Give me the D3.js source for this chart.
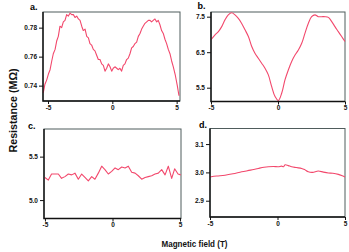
<!DOCTYPE html>
<html>
<head>
<meta charset="utf-8">
<script src="https://cdn.jsdelivr.net/npm/d3@7"></script>
<style>
  body { margin: 0; background: #fff; }
  svg { display: block; font-family: "Liberation Sans", Arial, sans-serif; }
</style>
</head>
<body>
<svg id="chart" width="349" height="252"></svg>
<script>
// values: [field (T), resistance]
const seriesA = [
  [-5.37, 0.735], [-5.24, 0.741], [-5.10, 0.744], [-4.97, 0.748], [-4.84, 0.751], [-4.71, 0.757],
  [-4.59, 0.762], [-4.45, 0.765], [-4.32, 0.771], [-4.20, 0.774], [-4.07, 0.781], [-3.94, 0.780],
  [-3.81, 0.784], [-3.68, 0.785], [-3.55, 0.789], [-3.42, 0.788], [-3.29, 0.790], [-3.16, 0.789],
  [-3.03, 0.789], [-2.90, 0.787], [-2.77, 0.788], [-2.64, 0.786], [-2.51, 0.785], [-2.38, 0.781],
  [-2.26, 0.778], [-2.12, 0.779], [-1.99, 0.774], [-1.86, 0.773], [-1.74, 0.769], [-1.61, 0.768],
  [-1.48, 0.765], [-1.35, 0.764], [-1.22, 0.761], [-1.09, 0.758], [-0.96, 0.758], [-0.83, 0.755],
  [-0.70, 0.754], [-0.57, 0.750], [-0.44, 0.752], [-0.31, 0.755], [-0.18, 0.753], [-0.05, 0.750],
  [0.07, 0.752], [0.20, 0.753], [0.34, 0.752], [0.46, 0.751], [0.59, 0.752], [0.72, 0.750],
  [0.85, 0.754], [0.98, 0.755], [1.11, 0.758], [1.24, 0.759], [1.37, 0.762], [1.50, 0.766],
  [1.63, 0.767], [1.76, 0.769], [1.89, 0.770], [2.02, 0.774], [2.15, 0.776], [2.28, 0.779],
  [2.40, 0.781], [2.54, 0.783], [2.67, 0.784], [2.80, 0.785], [2.93, 0.785], [3.05, 0.784],
  [3.18, 0.785], [3.31, 0.786], [3.45, 0.784], [3.57, 0.785], [3.70, 0.782], [3.83, 0.778],
  [3.96, 0.776], [4.09, 0.772], [4.22, 0.769], [4.35, 0.765], [4.48, 0.762], [4.61, 0.757],
  [4.74, 0.753], [4.90, 0.747], [5.05, 0.740], [5.18, 0.733]
]
const seriesB = [
  [-5.0, 6.85], [-4.70, 6.99], [-4.45, 7.08], [-4.20, 7.22], [-3.96, 7.41], [-3.71, 7.55],
  [-3.46, 7.61], [-3.21, 7.55], [-2.96, 7.45], [-2.71, 7.31], [-2.46, 7.13], [-2.21, 6.94],
  [-1.96, 6.66], [-1.72, 6.47], [-1.47, 6.33], [-1.22, 6.19], [-0.97, 6.05], [-0.72, 5.86],
  [-0.47, 5.53], [-0.22, 5.25], [0.03, 5.14], [0.28, 5.35], [0.52, 5.72], [0.77, 6.00],
  [1.02, 6.24], [1.27, 6.42], [1.52, 6.56], [1.77, 6.75], [2.01, 7.03], [2.26, 7.31],
  [2.51, 7.50], [2.76, 7.55], [3.01, 7.50], [3.26, 7.50], [3.51, 7.50], [3.76, 7.48],
  [4.01, 7.36], [4.25, 7.22], [4.50, 7.08], [4.75, 6.94], [5.0, 6.80]
]
const seriesC = [
  [-5.00, 5.26], [-4.75, 5.23], [-4.51, 5.30], [-4.26, 5.30], [-4.01, 5.30], [-3.77, 5.25],
  [-3.52, 5.27], [-3.27, 5.30], [-3.02, 5.29], [-2.78, 5.31], [-2.53, 5.24], [-2.28, 5.30],
  [-2.04, 5.26], [-1.79, 5.22], [-1.54, 5.27], [-1.30, 5.24], [-1.05, 5.31], [-0.80, 5.39],
  [-0.56, 5.35], [-0.31, 5.30], [-0.06, 5.33], [0.19, 5.37], [0.43, 5.35], [0.68, 5.38],
  [0.93, 5.37], [1.17, 5.39], [1.42, 5.32], [1.67, 5.31], [1.91, 5.28], [2.16, 5.24],
  [2.41, 5.26], [2.65, 5.27], [2.90, 5.28], [3.15, 5.30], [3.39, 5.31], [3.64, 5.35],
  [3.89, 5.29], [4.13, 5.39], [4.38, 5.25], [4.60, 5.36], [4.85, 5.30], [5.05, 5.29]
]
const seriesD = [
  [-5.0, 2.984], [-4.5, 2.987], [-3.89, 2.990], [-3.3, 2.995], [-2.65, 3.002], [-2.0, 3.008],
  [-1.42, 3.014], [-1.0, 3.018], [-0.68, 3.020], [-0.3, 3.021], [0.06, 3.020], [0.3, 3.022],
  [0.45, 3.020], [0.56, 3.027], [0.8, 3.024], [1.05, 3.020], [1.4, 3.017], [1.79, 3.014],
  [2.0, 3.010], [2.28, 3.002], [2.6, 3.000], [3.02, 3.005], [3.4, 3.001], [3.77, 2.998],
  [4.1, 2.997], [4.51, 2.993], [4.8, 2.988], [5.0, 2.984]
]

const xTicks = [-5, 0, 5]
const xTickLabels = ['-5', '0', '5']
const yTicksA = [0.74, 0.76, 0.78]
const yTicksB = [5.5, 6.5, 7.5]
const yTicksC = [5.0, 5.5]
const yTicksD = [2.9, 3.0, 3.1]
const panelNames = ['a.', 'b.', 'c.', 'd.']

const lineColor = '#f2486c'
const svg = d3.select('#chart')

// box = frame in px, xDom/yDom = values at the frame edges
const panels = [
  { name: panelNames[0], data: seriesA, yTicks: yTicksA, box: [43, 12, 180, 101], xDom: [-5.39, 5.26], yDom: [0.7294, 0.7908], curve: d3.curveLinear, label: [30, 10] },
  { name: panelNames[1], data: seriesB, yTicks: yTicksB, box: [211, 12, 345, 101.5], xDom: [-5, 5], yDom: [5.111, 7.632], curve: d3.curveCatmullRom, label: [197.5, 8.5] },
  { name: panelNames[2], data: seriesC, yTicks: yTicksC, box: [44, 129, 181, 218.5], xDom: [-5.07, 5.07], yDom: [4.788, 5.818], curve: d3.curveLinear, label: [28, 128.5] },
  { name: panelNames[3], data: seriesD, yTicks: yTicksD, box: [210, 128.5, 345, 217], xDom: [-5, 5], yDom: [2.8425, 3.155], curve: d3.curveCatmullRom, label: [199, 128] }
]

for (const p of panels) {
  const [x0, y0, x1, y1] = p.box
  const x = d3.scaleLinear().domain(p.xDom).range([x0, x1])
  const y = d3.scaleLinear().domain(p.yDom).range([y1, y0])
  const g = svg.append('g')

  // frame
  g.append('rect')
    .attr('x', x0).attr('y', y0)
    .attr('width', x1 - x0).attr('height', y1 - y0)
    .attr('fill', 'none')
    .attr('stroke', '#4f5c5c')
    .attr('stroke-width', 1)

  const line = d3.line()
    .x(d => x(d[0]))
    .y(d => y(d[1]))
    .curve(p.curve)

  g.append('path')
    .datum(p.data)
    .attr('fill', 'none')
    .attr('stroke', lineColor)
    .attr('stroke-width', 1.1)
    .attr('stroke-linejoin', 'round')
    .attr('d', line)

  // axes
  const xAxis = d3.axisBottom(x)
    .tickValues(xTicks)
    .tickFormat((d, i) => xTickLabels[i])
    .tickSize(3).tickPadding(1)
  const yAxis = d3.axisLeft(y)
    .tickValues(p.yTicks)
    .tickFormat(d3.format(p.yTicks[0] < 1 ? '.2f' : '.1f'))
    .tickSize(4).tickPadding(2)

  const gx = g.append('g').attr('transform', `translate(0, ${y1})`).call(xAxis)
  const gy = g.append('g').attr('transform', `translate(${x0}, 0)`).call(yAxis)
  for (const ax of [gx, gy]) {
    ax.select('.domain').remove()
    ax.selectAll('line').attr('stroke', '#111').attr('stroke-width', 1)
    ax.selectAll('text')
      .attr('fill', '#111')
      .style('font-size', '6.5px')
      .style('font-weight', 'bold')
      .style('font-family', '"Liberation Sans", Arial, sans-serif')
  }
  // left and bottom spines
  g.append('path')
    .attr('d', `M${x0},${y0}V${y1}H${x1}`)
    .attr('fill', 'none')
    .attr('stroke', '#111')
    .attr('stroke-width', 1.4)

  g.append('text')
    .attr('x', p.label[0]).attr('y', p.label[1])
    .style('font-size', '9px')
    .style('font-weight', 'bold')
    .text(p.name)
}

svg.append('text')
  .attr('transform', 'translate(16.5, 110.5) rotate(-90)')
  .attr('text-anchor', 'middle')
  .attr('textLength', 84)
  .attr('lengthAdjust', 'spacingAndGlyphs')
  .style('font-size', '10px')
  .style('font-weight', 'bold')
  .attr('fill', '#111')
  .text('Resistance (MΩ)')

svg.append('text')
  .attr('x', 194.5).attr('y', 246.5)
  .attr('text-anchor', 'middle')
  .attr('textLength', 66)
  .attr('lengthAdjust', 'spacingAndGlyphs')
  .style('font-size', '9.5px')
  .style('font-weight', 'bold')
  .attr('fill', '#111')
  .text('Magnetic field (T)')
</script>
</body>
</html>
